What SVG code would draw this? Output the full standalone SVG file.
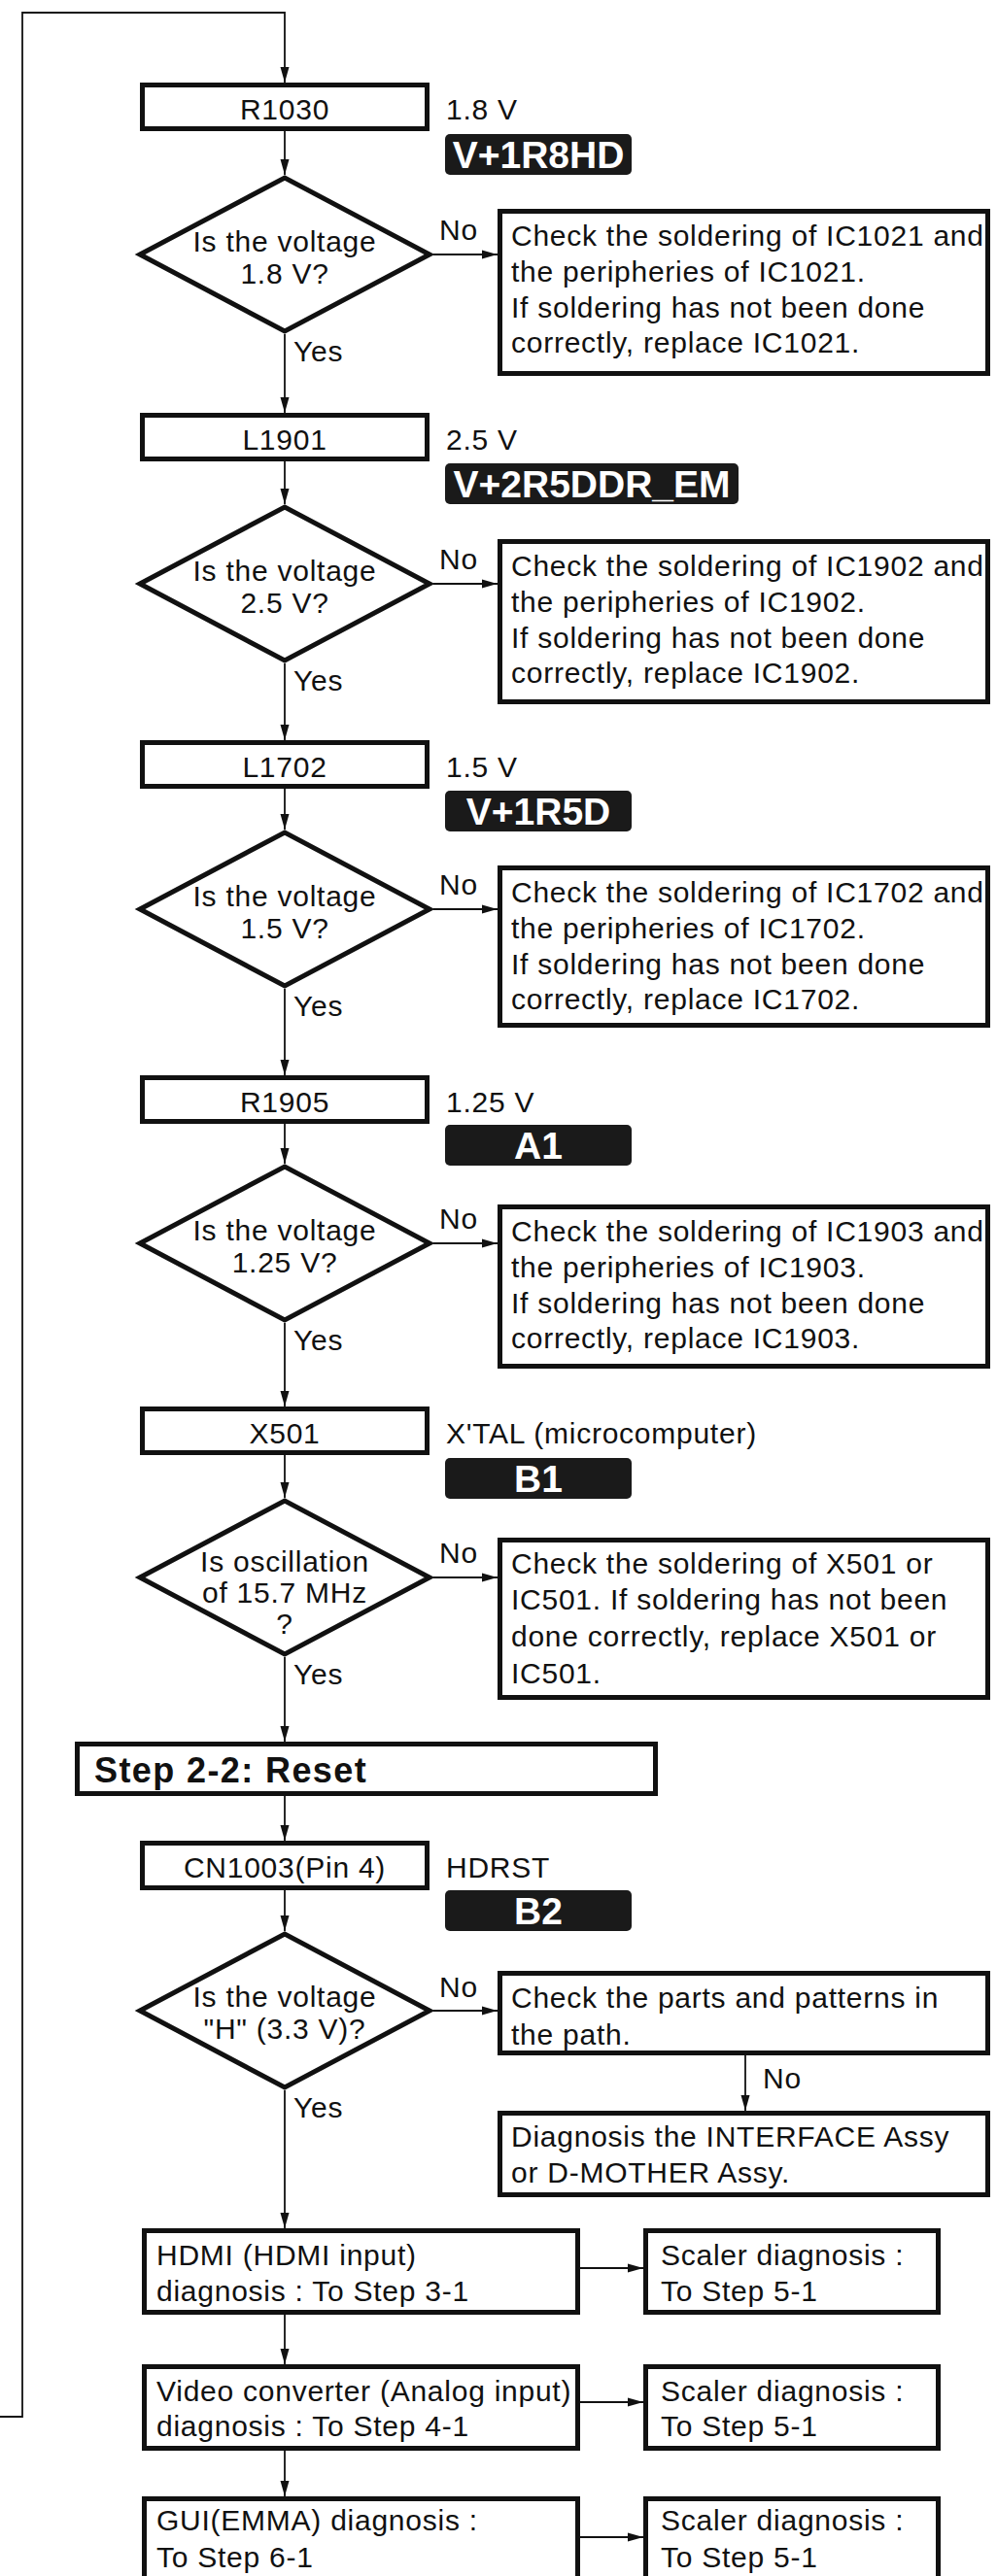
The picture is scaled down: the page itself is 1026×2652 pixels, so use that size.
<svg xmlns="http://www.w3.org/2000/svg" width="1026" height="2652" viewBox="0 0 1026 2652">
<style>
.t{font-family:"Liberation Sans",Arial,sans-serif;font-size:30px;letter-spacing:0.75px;fill:#111}
.m{text-anchor:middle}
.b{font-family:"Liberation Sans",Arial,sans-serif;font-weight:bold;font-size:39px;fill:#fff;text-anchor:middle}
.h{font-family:"Liberation Sans",Arial,sans-serif;font-weight:bold;font-size:36px;letter-spacing:1.4px;fill:#111}
.box{fill:#fff;stroke:#111;stroke-width:5}
.dia{fill:#fff;stroke:#111;stroke-width:5;stroke-linejoin:miter}
.badge{fill:#1a1a1a}
.conn{fill:none;stroke:#111;stroke-width:1.8}
</style>
<defs>
<marker id="ah" markerUnits="userSpaceOnUse" markerWidth="16" markerHeight="10" viewBox="0 0 16 10" refX="16" refY="5" orient="auto">
<path d="M0,0.5 L16,5 L0,9.5 Z" fill="#111"/>
</marker>
</defs>
<rect width="1026" height="2652" fill="#fff"/>

<g id="connectors" class="conn" marker-end="url(#ah)">
<path d="M0,2488 H23 V13 H293 V85"/>
<path d="M293,135 V180"/>
<path d="M293,344 V425"/>
<path d="M293,475 V519"/>
<path d="M293,683 V762"/>
<path d="M293,812 V854"/>
<path d="M293,1018 V1107"/>
<path d="M293,1157 V1198"/>
<path d="M293,1362 V1448"/>
<path d="M293,1498 V1542"/>
<path d="M293,1706 V1793"/>
<path d="M293,1849 V1895"/>
<path d="M293,1945 V1988"/>
<path d="M293,2152 V2294"/>
<path d="M293,2383 V2434"/>
<path d="M293,2523 V2570"/>
<path d="M446,262 H512"/>
<path d="M446,601 H512"/>
<path d="M446,936 H512"/>
<path d="M446,1280 H512"/>
<path d="M446,1624 H512"/>
<path d="M446,2070 H512"/>
<path d="M767,2116 V2173"/>
<path d="M597,2335 H662"/>
<path d="M597,2473 H662"/>
<path d="M597,2612 H662"/>
</g>

<g id="edge-labels" class="t">
<text x="452" y="247">No</text><text x="302" y="372">Yes</text>
<text x="452" y="586">No</text><text x="302" y="711">Yes</text>
<text x="452" y="921">No</text><text x="302" y="1046">Yes</text>
<text x="452" y="1265">No</text><text x="302" y="1390">Yes</text>
<text x="452" y="1609">No</text><text x="302" y="1734">Yes</text>
<text x="452" y="2056">No</text><text x="302" y="2180">Yes</text>
<text x="785" y="2150">No</text>
</g>

<g id="n-r1030">
<rect class="box" x="146.5" y="87.5" width="293" height="45"/>
<text class="t m" x="293" y="123">R1030</text>
<text class="t" x="459" y="123">1.8 V</text>
<rect class="badge" x="458" y="138" width="192" height="42" rx="5"/>
<text class="b" x="554" y="173">V+1R8HD</text>
</g>
<g id="n-d1">
<polygon class="dia" points="144,262 293,183 442,262 293,341"/>
<text class="t m" x="293" y="259">Is the voltage</text>
<text class="t m" x="293" y="292">1.8 V?</text>
</g>
<g id="n-c1">
<rect class="box" x="514.5" y="217.5" width="502" height="167"/>
<text class="t" x="526" y="253">Check the soldering of IC1021 and</text>
<text class="t" x="526" y="290">the peripheries of IC1021.</text>
<text class="t" x="526" y="327">If soldering has not been done</text>
<text class="t" x="526" y="363">correctly, replace IC1021.</text>
</g>

<g id="n-l1901">
<rect class="box" x="146.5" y="427.5" width="293" height="45"/>
<text class="t m" x="293" y="463">L1901</text>
<text class="t" x="459" y="463">2.5 V</text>
<rect class="badge" x="458" y="477" width="302" height="42" rx="5"/>
<text class="b" x="609" y="512">V+2R5DDR_EM</text>
</g>
<g id="n-d2">
<polygon class="dia" points="144,601 293,522 442,601 293,680"/>
<text class="t m" x="293" y="598">Is the voltage</text>
<text class="t m" x="293" y="631">2.5 V?</text>
</g>
<g id="n-c2">
<rect class="box" x="514.5" y="557.5" width="502" height="165"/>
<text class="t" x="526" y="593">Check the soldering of IC1902 and</text>
<text class="t" x="526" y="630">the peripheries of IC1902.</text>
<text class="t" x="526" y="667">If soldering has not been done</text>
<text class="t" x="526" y="703">correctly, replace IC1902.</text>
</g>

<g id="n-l1702">
<rect class="box" x="146.5" y="764.5" width="293" height="45"/>
<text class="t m" x="293" y="800">L1702</text>
<text class="t" x="459" y="800">1.5 V</text>
<rect class="badge" x="458" y="814" width="192" height="42" rx="5"/>
<text class="b" x="554" y="849">V+1R5D</text>
</g>
<g id="n-d3">
<polygon class="dia" points="144,936 293,857 442,936 293,1015"/>
<text class="t m" x="293" y="933">Is the voltage</text>
<text class="t m" x="293" y="966">1.5 V?</text>
</g>
<g id="n-c3">
<rect class="box" x="514.5" y="893.5" width="502" height="162"/>
<text class="t" x="526" y="929">Check the soldering of IC1702 and</text>
<text class="t" x="526" y="966">the peripheries of IC1702.</text>
<text class="t" x="526" y="1003">If soldering has not been done</text>
<text class="t" x="526" y="1039">correctly, replace IC1702.</text>
</g>

<g id="n-r1905">
<rect class="box" x="146.5" y="1109.5" width="293" height="45"/>
<text class="t m" x="293" y="1145">R1905</text>
<text class="t" x="459" y="1145">1.25 V</text>
<rect class="badge" x="458" y="1158" width="192" height="42" rx="5"/>
<text class="b" x="554" y="1193">A1</text>
</g>
<g id="n-d4">
<polygon class="dia" points="144,1280 293,1201 442,1280 293,1359"/>
<text class="t m" x="293" y="1277">Is the voltage</text>
<text class="t m" x="293" y="1310">1.25 V?</text>
</g>
<g id="n-c4">
<rect class="box" x="514.5" y="1242.5" width="502" height="164"/>
<text class="t" x="526" y="1278">Check the soldering of IC1903 and</text>
<text class="t" x="526" y="1315">the peripheries of IC1903.</text>
<text class="t" x="526" y="1352">If soldering has not been done</text>
<text class="t" x="526" y="1388">correctly, replace IC1903.</text>
</g>

<g id="n-x501">
<rect class="box" x="146.5" y="1450.5" width="293" height="45"/>
<text class="t m" x="293" y="1486">X501</text>
<text class="t" x="459" y="1486">X'TAL (microcomputer)</text>
<rect class="badge" x="458" y="1501" width="192" height="42" rx="5"/>
<text class="b" x="554" y="1536">B1</text>
</g>
<g id="n-d5">
<polygon class="dia" points="144,1624 293,1545 442,1624 293,1703"/>
<text class="t m" x="293" y="1618">Is oscillation</text>
<text class="t m" x="293" y="1650">of 15.7 MHz</text>
<text class="t m" x="293" y="1682">?</text>
</g>
<g id="n-c5">
<rect class="box" x="514.5" y="1585.5" width="502" height="162"/>
<text class="t" x="526" y="1620">Check the soldering of X501 or</text>
<text class="t" x="526" y="1657">IC501. If soldering has not been</text>
<text class="t" x="526" y="1695">done correctly, replace X501 or</text>
<text class="t" x="526" y="1733">IC501.</text>
</g>

<g id="n-step22">
<rect class="box" x="79.5" y="1795.5" width="595" height="51"/>
<text class="h" x="97" y="1835">Step 2-2: Reset</text>
</g>

<g id="n-cn1003">
<rect class="box" x="146.5" y="1897.5" width="293" height="46"/>
<text class="t m" x="293" y="1933">CN1003(Pin 4)</text>
<text class="t" x="459" y="1933">HDRST</text>
<rect class="badge" x="458" y="1946" width="192" height="42" rx="5"/>
<text class="b" x="554" y="1981">B2</text>
</g>
<g id="n-d6">
<polygon class="dia" points="144,2070 293,1991 442,2070 293,2149"/>
<text class="t m" x="293" y="2066">Is the voltage</text>
<text class="t m" x="293" y="2099">"H" (3.3 V)?</text>
</g>
<g id="n-c6">
<rect class="box" x="514.5" y="2031.5" width="502" height="82"/>
<text class="t" x="526" y="2067">Check the parts and patterns in</text>
<text class="t" x="526" y="2105">the path.</text>
</g>
<g id="n-diag">
<rect class="box" x="514.5" y="2175.5" width="502" height="84"/>
<text class="t" x="526" y="2210">Diagnosis the INTERFACE Assy</text>
<text class="t" x="526" y="2247">or D-MOTHER Assy.</text>
</g>

<g id="n-hdmi">
<rect class="box" x="148.5" y="2296.5" width="446" height="84"/>
<text class="t" x="161" y="2332">HDMI (HDMI input)</text>
<text class="t" x="161" y="2369">diagnosis : To Step 3-1</text>
</g>
<g id="n-scaler1">
<rect class="box" x="664.5" y="2296.5" width="301" height="84"/>
<text class="t" x="680" y="2332">Scaler diagnosis :</text>
<text class="t" x="680" y="2369">To Step 5-1</text>
</g>
<g id="n-video">
<rect class="box" x="148.5" y="2436.5" width="446" height="84"/>
<text class="t" x="161" y="2472">Video converter (Analog input)</text>
<text class="t" x="161" y="2508">diagnosis : To Step 4-1</text>
</g>
<g id="n-scaler2">
<rect class="box" x="664.5" y="2436.5" width="301" height="84"/>
<text class="t" x="680" y="2472">Scaler diagnosis :</text>
<text class="t" x="680" y="2508">To Step 5-1</text>
</g>
<g id="n-gui">
<rect class="box" x="148.5" y="2572.5" width="446" height="120"/>
<text class="t" x="161" y="2605">GUI(EMMA) diagnosis :</text>
<text class="t" x="161" y="2643">To Step 6-1</text>
</g>
<g id="n-scaler3">
<rect class="box" x="664.5" y="2572.5" width="301" height="120"/>
<text class="t" x="680" y="2605">Scaler diagnosis :</text>
<text class="t" x="680" y="2643">To Step 5-1</text>
</g>
</svg>
